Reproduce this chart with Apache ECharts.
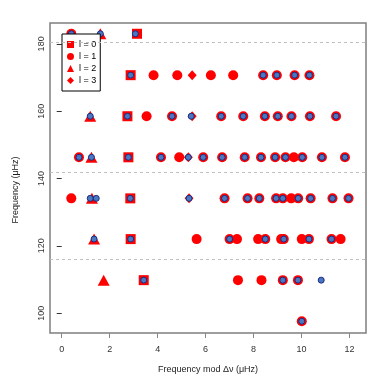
<!DOCTYPE html>
<html>
<head>
<meta charset="utf-8">
<script src="https://cdn.jsdelivr.net/npm/echarts@6/dist/echarts.min.js"></script>
<style>
  html, body { margin: 0; padding: 0; background: #fff; }
  #chart { width: 390px; height: 390px; }
</style>
</head>
<body>
<div id="chart"></div>
<script>
// echelle diagram: [frequency mod dnu, frequency] in muHz
const l0Points = [
  [3.14, 183.0], [2.875, 170.7], [2.74, 158.5], [2.78, 146.3],
  [2.86, 134.1], [2.875, 122.0], [3.42, 109.8]
];
const l1Points = [
  [0.40, 183.0],
  [3.83, 170.7], [4.82, 170.7], [6.22, 170.7], [7.15, 170.7], [8.40, 170.7], [8.97, 170.7], [9.71, 170.7], [10.33, 170.7],
  [3.54, 158.5], [4.60, 158.5], [6.65, 158.5], [7.57, 158.5], [8.47, 158.5], [9.01, 158.5], [9.58, 158.5], [10.35, 158.5], [11.44, 158.5],
  [0.72, 146.3], [4.14, 146.3], [4.90, 146.3], [5.90, 146.3], [6.69, 146.3], [7.63, 146.3], [8.31, 146.3], [8.90, 146.3], [9.33, 146.3], [9.68, 146.3], [10.03, 146.3], [10.85, 146.3], [11.81, 146.3],
  [0.40, 134.1], [6.79, 134.1], [7.75, 134.1], [8.24, 134.1], [8.94, 134.1], [9.22, 134.1], [9.57, 134.1], [9.86, 134.1], [10.38, 134.1], [11.29, 134.1], [11.96, 134.1],
  [5.625, 122.0], [7.00, 122.0], [7.31, 122.0], [8.19, 122.0], [8.49, 122.0], [9.15, 122.0], [9.26, 122.0], [10.01, 122.0], [10.31, 122.0], [11.25, 122.0], [11.63, 122.0],
  [7.35, 109.8], [8.33, 109.8], [9.22, 109.8], [9.85, 109.8],
  [10.01, 97.6]
];
const l2Points = [
  [1.61, 183.0], [1.19, 158.5], [1.24, 146.3], [1.26, 134.1], [1.35, 122.0], [1.75, 109.8]
];
const l3Points = [
  [5.44, 170.7], [5.44, 158.5], [5.28, 146.3], [5.31, 134.1]
];
// observed modes (blue)
const observed = [
  [0.40, 183.0], [1.61, 183.0], [3.07, 183.0],
  [2.875, 170.7], [8.40, 170.7], [8.97, 170.7], [9.71, 170.7], [10.33, 170.7],
  [1.19, 158.5], [2.74, 158.5], [4.60, 158.5], [5.40, 158.5], [6.65, 158.5], [7.57, 158.5], [8.47, 158.5], [9.01, 158.5], [9.58, 158.5], [10.35, 158.5], [11.44, 158.5],
  [0.72, 146.3], [1.24, 146.3], [2.78, 146.3], [4.14, 146.3], [5.28, 146.3], [5.90, 146.3], [6.69, 146.3], [7.63, 146.3], [8.31, 146.3], [8.90, 146.3], [9.33, 146.3], [10.03, 146.3], [10.85, 146.3], [11.81, 146.3],
  [1.19, 134.1], [1.44, 134.1], [2.86, 134.1], [5.31, 134.1], [6.79, 134.1], [7.75, 134.1], [8.24, 134.1], [8.94, 134.1], [9.22, 134.1], [9.86, 134.1], [10.38, 134.1], [11.29, 134.1], [11.96, 134.1],
  [1.35, 122.0], [2.875, 122.0], [7.00, 122.0], [8.49, 122.0], [9.26, 122.0], [10.31, 122.0], [11.25, 122.0],
  [3.42, 109.8], [9.22, 109.8], [9.85, 109.8], [10.82, 109.8],
  [10.01, 97.6]
];
const dashedLevels = [180.5, 141.9, 116.0];
const xTicks = [0, 2, 4, 6, 8, 10, 12];
const yTicks = [100, 120, 140, 160, 180];

const FONT = '"Liberation Sans", Arial, sans-serif';
const RED = '#ff0000';

const chart = echarts.init(document.getElementById('chart'), null, { renderer: 'canvas' });

function redSeries(name, data, symbol, size) {
  return {
    name: name,
    type: 'scatter',
    data: data,
    symbol: symbol,
    symbolSize: size,
    itemStyle: { color: RED, opacity: 1 },
    emphasis: { disabled: true },
    z: 2
  };
}

chart.setOption({
  animation: false,
  textStyle: { fontFamily: FONT },
  grid: {
    left: 50, right: 24, top: 23, bottom: 57,
    show: true, borderColor: '#7f7f7f', borderWidth: 1.5, backgroundColor: 'transparent'
  },
  legend: {
    orient: 'vertical',
    left: 62, top: 34,
    padding: [5, 4, 5, 5],
    itemGap: 1,
    itemWidth: 7, itemHeight: 7,
    backgroundColor: '#fff',
    borderColor: '#000', borderWidth: 1, borderRadius: 0,
    textStyle: { fontFamily: FONT, fontSize: 9, color: '#000', lineHeight: 11 },
    data: [
      { name: 'l = 0', icon: 'rect' },
      { name: 'l = 1', icon: 'circle' },
      { name: 'l = 2', icon: 'triangle' },
      { name: 'l = 3', icon: 'diamond' }
    ],
    selectedMode: false
  },
  xAxis: {
    type: 'value',
    min: -0.488, max: 12.688,
    name: 'Frequency mod \u0394\u03bd (\u03bcHz)',
    nameLocation: 'middle', nameGap: 32,
    nameTextStyle: { fontFamily: FONT, fontSize: 9, color: '#222' },
    axisLine: { show: false },
    axisTick: { show: true, length: 5, customValues: xTicks, lineStyle: { color: '#888' } },
    axisLabel: { customValues: xTicks, margin: 12, fontSize: 9, color: '#333', fontFamily: FONT },
    splitLine: { show: false }
  },
  yAxis: {
    type: 'value',
    min: 94.1, max: 186.2,
    name: 'Frequency (\u03bcHz)',
    nameLocation: 'middle', nameGap: 30,
    nameTextStyle: { fontFamily: FONT, fontSize: 9, color: '#222', padding: [0, 24, 0, 0] },
    axisLine: { show: false },
    axisTick: { show: true, length: 5, customValues: yTicks, lineStyle: { color: '#333' } },
    axisLabel: { customValues: yTicks, rotate: 90, margin: 4, fontSize: 9, color: '#333', fontFamily: FONT },
    splitLine: { show: false }
  },
  series: [
    {
      type: 'scatter',
      data: [],
      silent: true,
      markLine: {
        silent: true,
        symbol: 'none',
        label: { show: false },
        lineStyle: { color: '#c0c0c0', type: [3, 3], width: 1 },
        data: dashedLevels.map(v => ({ yAxis: v }))
      },
      z: 1
    },
    redSeries('l = 0', l0Points, 'rect', 10),
    redSeries('l = 1', l1Points, 'circle', 10),
    redSeries('l = 2', l2Points, 'triangle', [12, 11]),
    redSeries('l = 3', l3Points, 'diamond', [9, 10]),
    {
      name: 'observed',
      type: 'scatter',
      data: observed,
      symbol: 'circle',
      symbolSize: 6,
      itemStyle: { color: '#4a78c0', borderColor: '#1c2a80', borderWidth: 1, opacity: 1 },
      emphasis: { disabled: true },
      z: 3
    }
  ]
});
</script>
</body>
</html>
